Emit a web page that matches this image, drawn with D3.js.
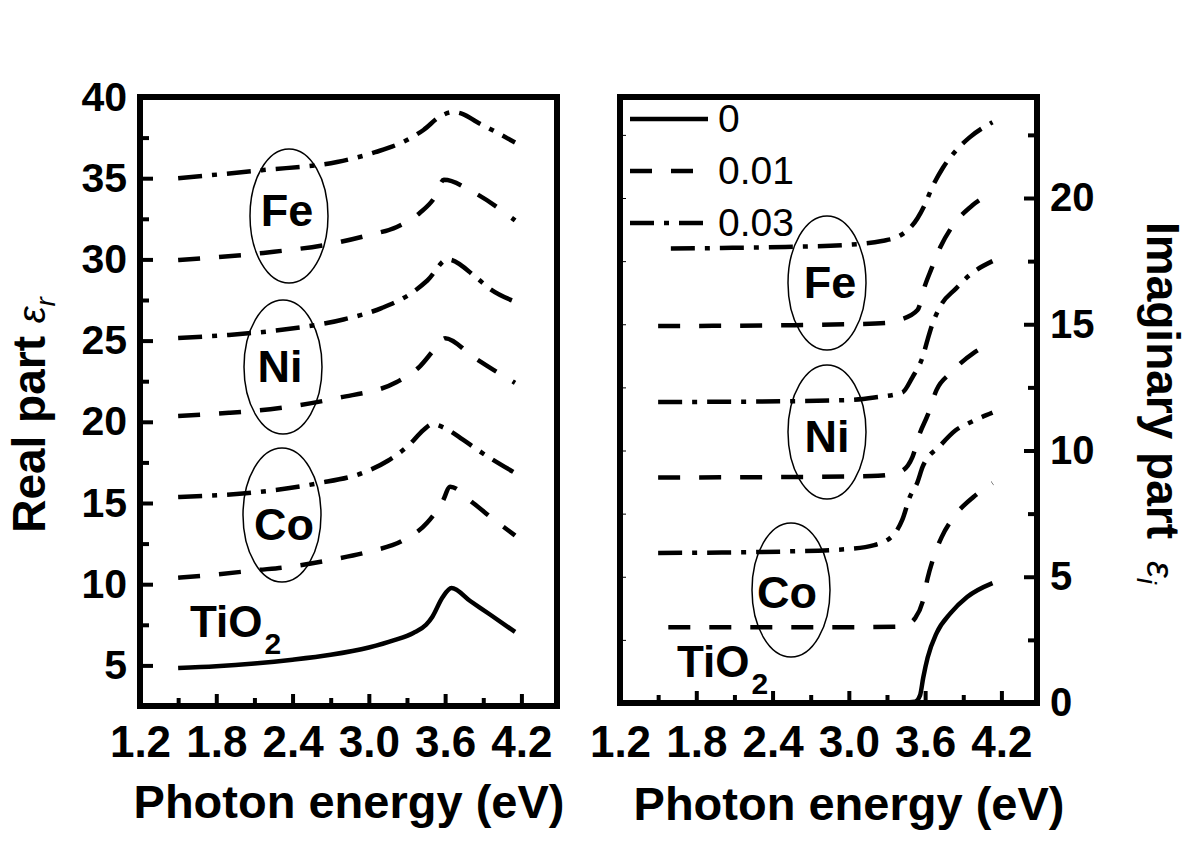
<!DOCTYPE html>
<html>
<head>
<meta charset="utf-8">
<script src="https://cdn.jsdelivr.net/npm/d3@7"></script>
<style>
  body { margin: 0; background: #fff; }
  svg text { font-family: "Liberation Sans", Arial, sans-serif; fill: #000; }
</style>
</head>
<body>
<div id="chart"></div>
<script>
// ticks
var energyTicks = [1.2, 1.8, 2.4, 3.0, 3.6, 4.2];
var energyMinor = [1.5, 2.1, 2.7, 3.3, 3.9];
var realTicks = [5, 10, 15, 20, 25, 30, 35, 40];
var realMinor = [7.5, 12.5, 17.5, 22.5, 27.5, 32.5, 37.5];
var imagTicks = [0, 5, 10, 15, 20];
var imagMinor = [2.5, 7.5, 12.5, 17.5, 22.5];

// real part (eV, eps_r)
var tio2Real = [[1.5,4.84],[1.8,4.95],[2.1,5.12],[2.4,5.35],[2.7,5.65],[3.0,6.1],[3.2,6.55],[3.35,7.0],[3.45,7.5],[3.5,8.0],[3.58,9.2],[3.65,9.77],[3.8,8.95],[3.95,8.15],[4.15,7.06]];
var coReal01 = [[1.5,10.4],[1.8,10.6],[2.1,10.85],[2.4,11.1],[2.7,11.5],[3.0,12.0],[3.27,12.7],[3.46,13.8],[3.58,15.1],[3.64,16.0],[3.82,15.0],[3.98,14.0],[4.15,13.0]];
var coReal03 = [[1.5,15.37],[2.03,15.6],[2.59,16.2],[2.95,16.85],[3.15,17.6],[3.32,18.6],[3.43,19.5],[3.5,19.85],[3.6,19.6],[3.74,18.9],[3.85,18.3],[4.15,16.85]];
var niReal01 = [[1.5,20.36],[1.9,20.55],[2.3,20.85],[2.75,21.46],[3.22,22.45],[3.4,23.4],[3.52,24.5],[3.6,25.15],[3.82,24.0],[3.98,23.2],[4.15,22.4]];
var niReal03 = [[1.5,25.16],[1.9,25.35],[2.3,25.65],[2.8,26.3],[3.1,27.0],[3.35,28.0],[3.46,28.7],[3.62,30.0],[3.85,28.85],[3.95,28.2],[4.15,27.4]];
var feReal01 = [[1.5,29.96],[2.17,30.4],[2.73,31.0],[3.0,31.5],[3.22,32.0],[3.4,32.86],[3.52,33.85],[3.59,34.9],[3.82,34.15],[4.15,32.4]];
var feReal03 = [[1.5,35.0],[2.17,35.5],[2.75,36.0],[3.05,36.6],[3.3,37.35],[3.43,37.97],[3.56,38.8],[3.66,39.07],[3.74,38.95],[3.85,38.46],[3.95,38.05],[4.15,37.2]];

// imaginary part (eV, eps_i)
var tio2Imag = [[3.3,0],[3.52,0.05],[3.56,0.3],[3.585,1.0],[3.62,1.8],[3.69,2.77],[3.8,3.56],[3.93,4.2],[4.13,4.75]];
var coImag01 = [[1.58,3.0],[2.5,3.0],[3.0,3.0],[3.36,3.02],[3.45,3.1],[3.52,3.35],[3.58,4.0],[3.62,4.95],[3.66,5.66],[3.73,6.57],[3.82,7.33],[3.98,8.16],[4.13,8.71]];
var coImag03 = [[1.5,5.94],[2.0,5.96],[2.5,6.0],[3.0,6.1],[3.2,6.25],[3.35,6.65],[3.42,7.25],[3.48,8.16],[3.54,8.75],[3.58,9.35],[3.72,10.2],[3.84,10.8],[3.95,11.1],[4.13,11.5]];
var niImag01 = [[1.5,8.93],[2.5,8.95],[3.0,8.97],[3.23,9.0],[3.4,9.15],[3.5,9.74],[3.56,10.7],[3.62,11.4],[3.69,12.4],[3.8,13.07],[3.98,13.86],[4.13,14.26]];
var niImag03 = [[1.5,11.92],[2.5,11.95],[3.0,12.0],[3.2,12.1],[3.42,12.3],[3.5,12.9],[3.58,13.7],[3.62,14.4],[3.65,14.9],[3.73,15.8],[3.84,16.4],[3.95,16.95],[4.13,17.5]];
var feImag01 = [[1.5,14.93],[2.5,14.96],[3.0,15.0],[3.3,15.05],[3.4,15.17],[3.54,15.56],[3.6,16.55],[3.65,17.2],[3.72,18.06],[3.81,18.85],[3.97,19.7],[4.13,20.2]];
var feImag03 = [[1.6,18.0],[2.0,18.02],[2.5,18.06],[3.0,18.15],[3.26,18.3],[3.38,18.45],[3.54,19.2],[3.6,19.76],[3.65,20.36],[3.74,21.2],[3.84,21.86],[3.95,22.4],[4.13,23.0]];

var legendLabels = ["0", "0.01", "0.03"];

var dashes = { "0": null, "0.01": "22,19", "0.03": "24,10,5,10" };

var svg = d3.select("#chart").append("svg")
  .attr("width", 1200).attr("height", 848)
  .style("background", "#fff");

var xL = d3.scaleLinear().domain([1.2, 4.48]).range([140, 557]);
var yL = d3.scaleLinear().domain([2.5, 40]).range([706, 97]);
var xR = d3.scaleLinear().domain([1.2, 4.48]).range([620, 1037]);
var yR = d3.scaleLinear().domain([0, 24]).range([703, 97]);

function styleAxis(g, size) {
  g.select(".domain").remove();
  g.selectAll(".tick line").attr("stroke", "#000").attr("stroke-width", 4);
  g.selectAll(".tick text")
    .attr("font-size", size).attr("font-weight", "bold")
    .attr("font-family", "Liberation Sans, Arial, sans-serif").attr("fill", "#000");
}

function drawCurves(x, y, list) {
  var line = d3.line().x(d => x(d[0])).y(d => y(d[1])).curve(d3.curveMonotoneX);
  list.forEach(function(s) {
    svg.append("path")
      .attr("d", line(s.data))
      .attr("fill", "none")
      .attr("stroke", "#000")
      .attr("stroke-width", 4.5)
      .attr("stroke-dasharray", dashes[s.k]);
  });
}

// ---------- left panel ----------
var bl = svg.append("g").attr("transform", "translate(0,706)");
bl.call(d3.axisBottom(xL).tickValues(energyTicks).tickSize(-12).tickPadding(20).tickFormat(d3.format(".1f")));
styleAxis(bl, 44);
var blm = svg.append("g").attr("transform", "translate(0,706)");
blm.call(d3.axisBottom(xL).tickValues(energyMinor).tickSize(-8).tickFormat(""));
styleAxis(blm, 0);

var ll = svg.append("g").attr("transform", "translate(140,0)");
ll.call(d3.axisLeft(yL).tickValues(realTicks).tickSize(-13).tickPadding(13));
styleAxis(ll, 41);
var llm = svg.append("g").attr("transform", "translate(140,0)");
llm.call(d3.axisLeft(yL).tickValues(realMinor).tickSize(-9).tickFormat(""));
styleAxis(llm, 0);

drawCurves(xL, yL, [
  {k: "0", data: tio2Real},
  {k: "0.01", data: coReal01}, {k: "0.03", data: coReal03},
  {k: "0.01", data: niReal01}, {k: "0.03", data: niReal03},
  {k: "0.01", data: feReal01}, {k: "0.03", data: feReal03}
]);

svg.append("rect").attr("x", 140).attr("y", 97).attr("width", 417).attr("height", 609)
  .attr("fill", "none").attr("stroke", "#000").attr("stroke-width", 6);

// ---------- right panel ----------
var br = svg.append("g").attr("transform", "translate(0,703)");
br.call(d3.axisBottom(xR).tickValues(energyTicks).tickSize(-12).tickPadding(23).tickFormat(d3.format(".1f")));
styleAxis(br, 44);
var brm = svg.append("g").attr("transform", "translate(0,703)");
brm.call(d3.axisBottom(xR).tickValues(energyMinor).tickSize(-8).tickFormat(""));
styleAxis(brm, 0);

var rr = svg.append("g").attr("transform", "translate(1037,0)");
rr.call(d3.axisRight(yR).tickValues(imagTicks).tickSize(-13).tickPadding(13));
styleAxis(rr, 40);
var rrm = svg.append("g").attr("transform", "translate(1037,0)");
rrm.call(d3.axisRight(yR).tickValues(imagMinor).tickSize(-9).tickFormat(""));
styleAxis(rrm, 0);

// faint ticks on inner left edge
var rl = svg.append("g").attr("transform", "translate(620,0)");
rl.call(d3.axisLeft(yR).tickValues(imagMinor.concat([5, 10, 15, 20])).tickSize(-6).tickFormat(""));
rl.select(".domain").remove();
rl.selectAll(".tick line").attr("stroke", "#000").attr("stroke-width", 1);

drawCurves(xR, yR, [
  {k: "0", data: tio2Imag},
  {k: "0.01", data: coImag01}, {k: "0.03", data: coImag03},
  {k: "0.01", data: niImag01}, {k: "0.03", data: niImag03},
  {k: "0.01", data: feImag01}, {k: "0.03", data: feImag03}
]);

svg.append("rect").attr("x", 620).attr("y", 97).attr("width", 417).attr("height", 606)
  .attr("fill", "none").attr("stroke", "#000").attr("stroke-width", 6);

// legend
legendLabels.forEach(function(k, i) {
  var ly = 119 + i * 52;
  svg.append("line").attr("x1", 630).attr("x2", 708).attr("y1", ly).attr("y2", ly)
    .attr("stroke", "#000").attr("stroke-width", 4.5).attr("stroke-dasharray", dashes[k]);
  svg.append("text").attr("x", 718).attr("y", ly + 13).attr("font-size", 39).text(k);
});

// ellipses with element names
var tags = [
  {t: "Fe", cx: 289, cy: 216, tx: 287, ty: 226},
  {t: "Ni", cx: 283, cy: 367, tx: 280, ty: 382},
  {t: "Co", cx: 282, cy: 515, tx: 284, ty: 540},
  {t: "Fe", cx: 827, cy: 283, tx: 830, ty: 298},
  {t: "Ni", cx: 827, cy: 432, tx: 827, ty: 452},
  {t: "Co", cx: 791, cy: 590, tx: 787, ty: 608}
];
tags.forEach(function(d) {
  svg.append("ellipse").attr("cx", d.cx).attr("cy", d.cy).attr("rx", 39).attr("ry", 67)
    .attr("fill", "none").attr("stroke", "#000").attr("stroke-width", 1.5);
  svg.append("text").attr("x", d.tx).attr("y", d.ty).attr("text-anchor", "middle")
    .attr("font-size", 45).attr("font-weight", "bold").text(d.t);
});

// TiO2 labels
[[190, 637], [677, 677]].forEach(function(p) {
  var t = svg.append("text").attr("x", p[0]).attr("y", p[1]).attr("font-size", 44).attr("font-weight", "bold");
  t.append("tspan").text("TiO");
  t.append("tspan").attr("font-size", 30).attr("dx", 2).attr("dy", 17).text("2");
});

// axis titles
svg.append("text").attr("x", 349).attr("y", 818).attr("text-anchor", "middle")
  .attr("font-size", 47).attr("font-weight", "bold").text("Photon energy (eV)");
svg.append("text").attr("x", 849).attr("y", 820).attr("text-anchor", "middle")
  .attr("font-size", 47).attr("font-weight", "bold").text("Photon energy (eV)");

var tl = svg.append("text").attr("transform", "translate(45,415) rotate(-90)")
  .attr("text-anchor", "middle").attr("font-size", 46).attr("font-weight", "bold");
tl.append("tspan").text("Real part ");
tl.append("tspan").attr("font-style", "italic").attr("font-weight", "normal").attr("font-size", 38).text("ε");
tl.append("tspan").attr("font-style", "italic").attr("font-weight", "normal").attr("font-size", 28).attr("dy", 10).text("r");

var tr = svg.append("text").attr("transform", "translate(1147,222) rotate(90)")
  .attr("font-size", 46).attr("font-weight", "bold");
tr.append("tspan").text("Imaginary part");
tr.append("tspan").attr("dx", 22).attr("font-style", "italic").attr("font-weight", "normal").attr("font-size", 38).text("ε");
tr.append("tspan").attr("font-style", "italic").attr("font-weight", "normal").attr("font-size", 28).attr("dy", 10).text("i");
</script>
</body>
</html>
